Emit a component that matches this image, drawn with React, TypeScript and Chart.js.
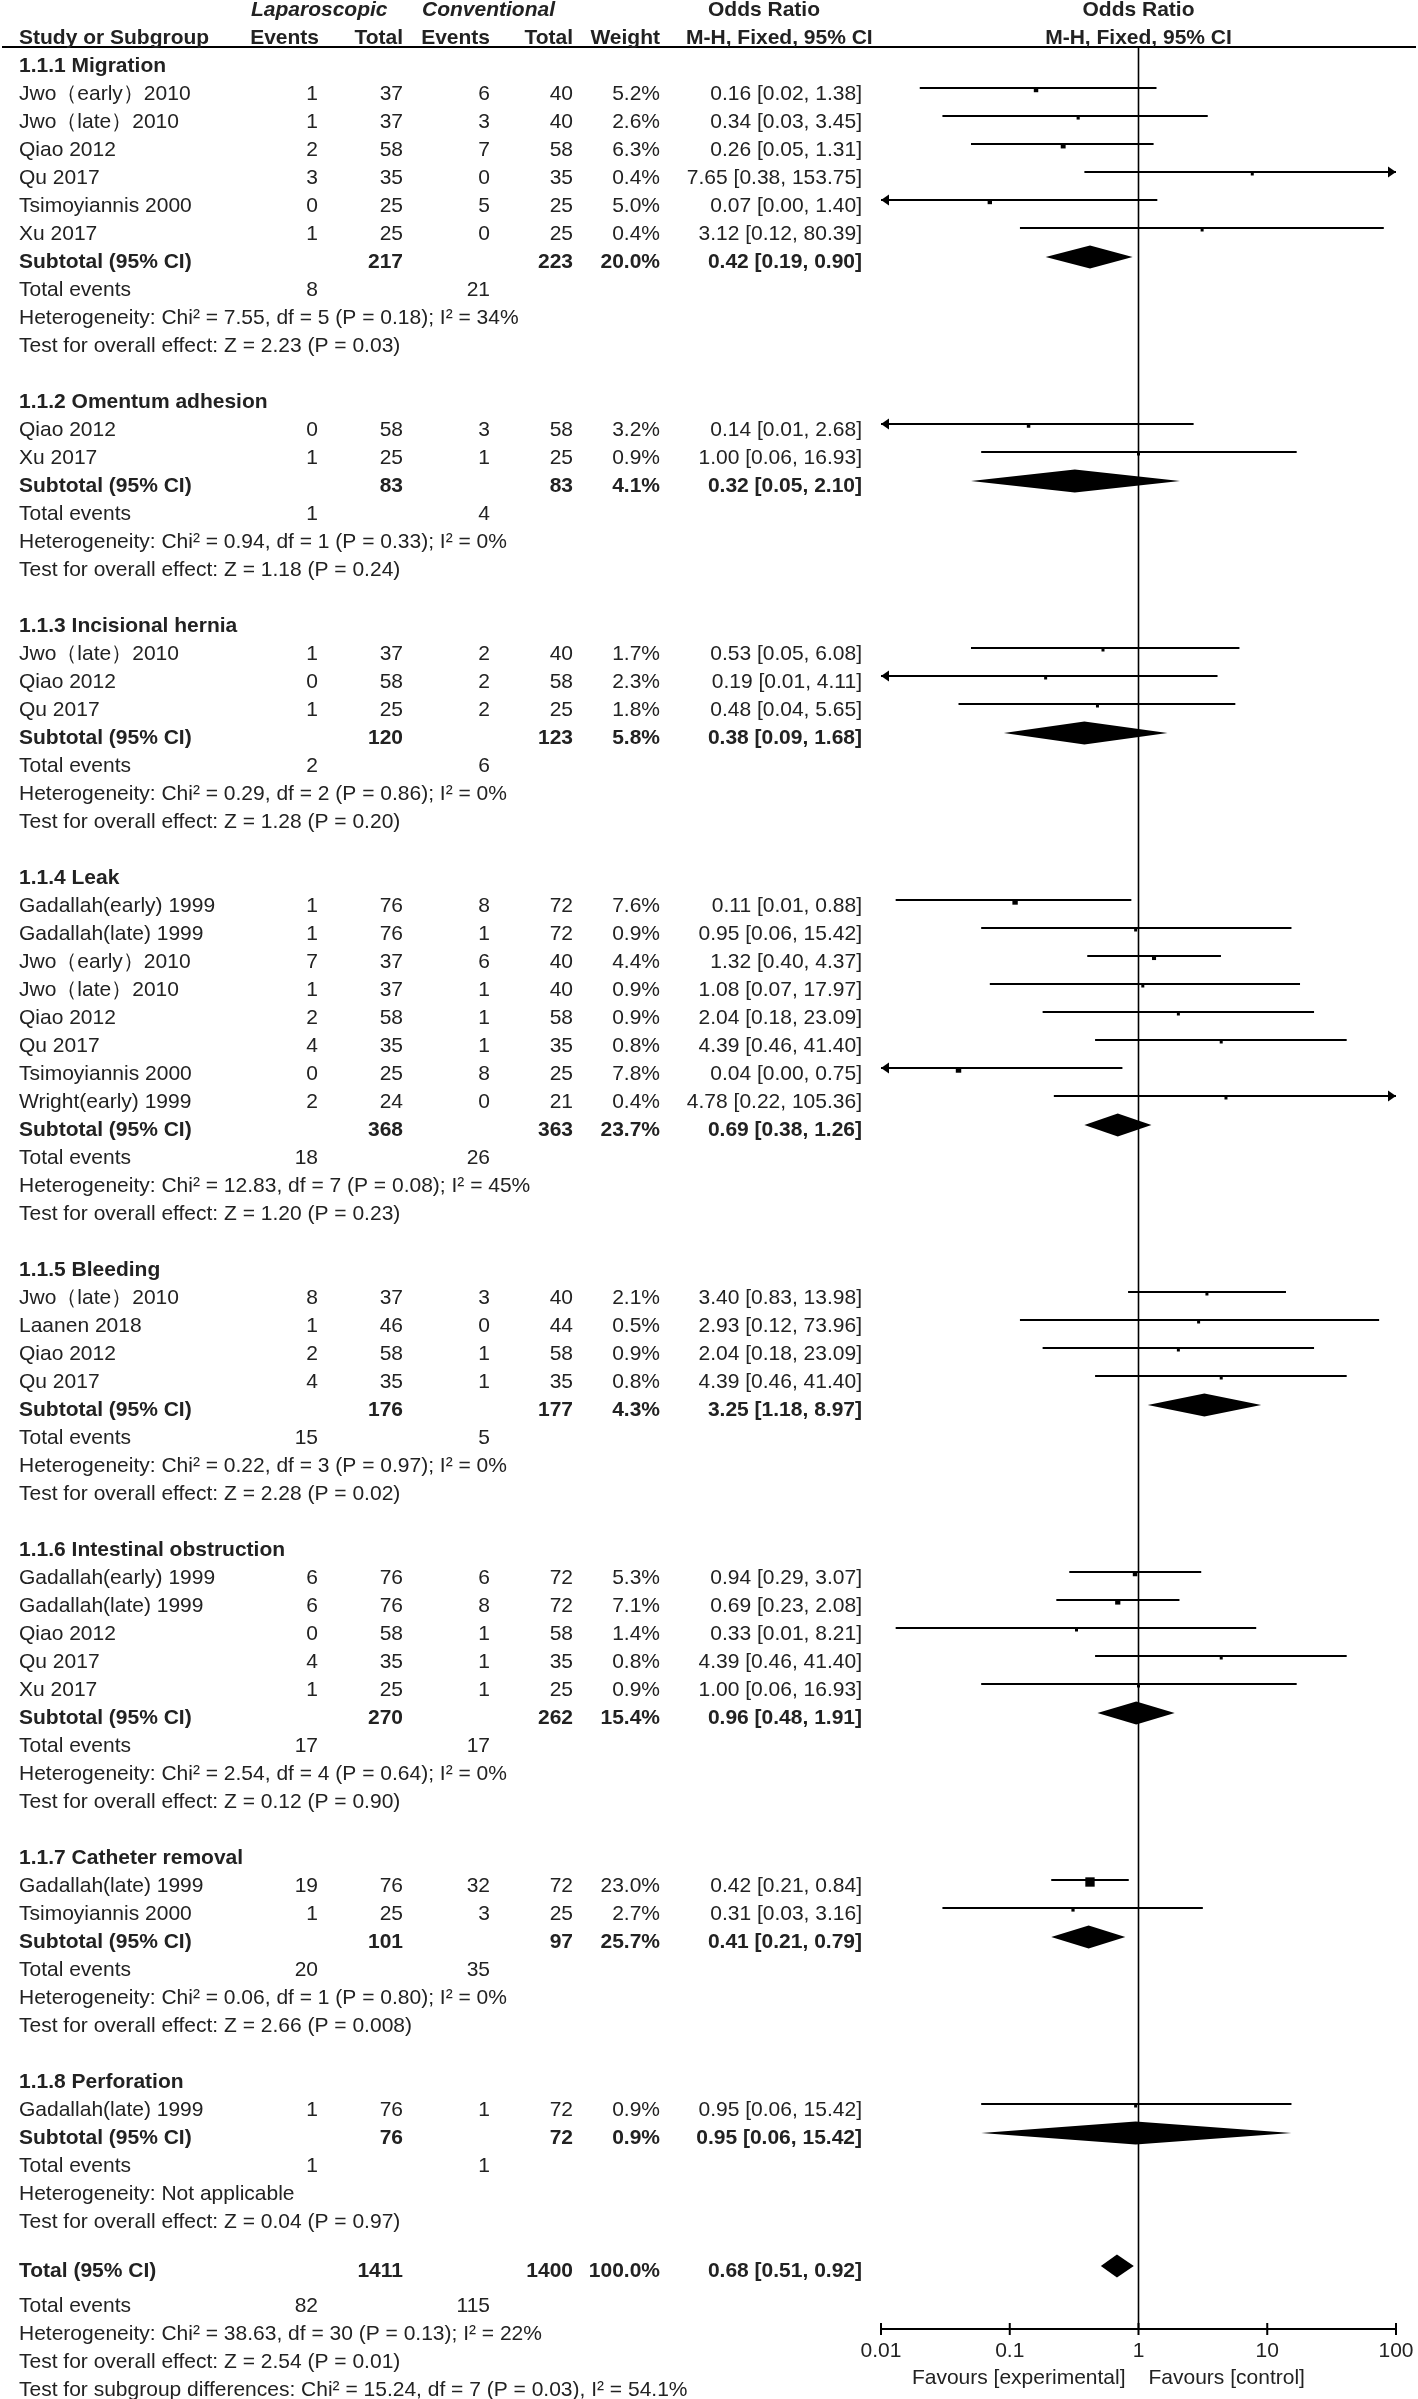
import React, { useEffect, useRef } from "react";
import { Chart, registerables } from "chart.js";

Chart.register(...registerables);

// ---------- DATA ----------
const groupTitles = [
  "1.1.1 Migration",
  "1.1.2 Omentum adhesion",
  "1.1.3 Incisional hernia",
  "1.1.4 Leak",
  "1.1.5 Bleeding",
  "1.1.6 Intestinal obstruction",
  "1.1.7 Catheter removal",
  "1.1.8 Perforation",
];

const studyGroups = [0, 0, 0, 0, 0, 0, 1, 1, 2, 2, 2, 3, 3, 3, 3, 3, 3, 3, 3, 4, 4, 4, 4, 5, 5, 5, 5, 5, 6, 6, 7];
const studyNames = [
  "Jwo（early）2010", "Jwo（late）2010", "Qiao 2012", "Qu 2017", "Tsimoyiannis 2000", "Xu 2017",
  "Qiao 2012", "Xu 2017",
  "Jwo（late）2010", "Qiao 2012", "Qu 2017",
  "Gadallah(early) 1999", "Gadallah(late) 1999", "Jwo（early）2010", "Jwo（late）2010", "Qiao 2012", "Qu 2017", "Tsimoyiannis 2000", "Wright(early) 1999",
  "Jwo（late）2010", "Laanen 2018", "Qiao 2012", "Qu 2017",
  "Gadallah(early) 1999", "Gadallah(late) 1999", "Qiao 2012", "Qu 2017", "Xu 2017",
  "Gadallah(late) 1999", "Tsimoyiannis 2000",
  "Gadallah(late) 1999",
];
const lapEvents = [1, 1, 2, 3, 0, 1, 0, 1, 1, 0, 1, 1, 1, 7, 1, 2, 4, 0, 2, 8, 1, 2, 4, 6, 6, 0, 4, 1, 19, 1, 1];
const lapTotals = [37, 37, 58, 35, 25, 25, 58, 25, 37, 58, 25, 76, 76, 37, 37, 58, 35, 25, 24, 37, 46, 58, 35, 76, 76, 58, 35, 25, 76, 25, 76];
const conEvents = [6, 3, 7, 0, 5, 0, 3, 1, 2, 2, 2, 8, 1, 6, 1, 1, 1, 8, 0, 3, 0, 1, 1, 6, 8, 1, 1, 1, 32, 3, 1];
const conTotals = [40, 40, 58, 35, 25, 25, 58, 25, 40, 58, 25, 72, 72, 40, 40, 58, 35, 25, 21, 40, 44, 58, 35, 72, 72, 58, 35, 25, 72, 25, 72];
const studyWeights = [5.2, 2.6, 6.3, 0.4, 5.0, 0.4, 3.2, 0.9, 1.7, 2.3, 1.8, 7.6, 0.9, 4.4, 0.9, 0.9, 0.8, 7.8, 0.4, 2.1, 0.5, 0.9, 0.8, 5.3, 7.1, 1.4, 0.8, 0.9, 23.0, 2.7, 0.9];
const studyOR = [0.16, 0.34, 0.26, 7.65, 0.07, 3.12, 0.14, 1.0, 0.53, 0.19, 0.48, 0.11, 0.95, 1.32, 1.08, 2.04, 4.39, 0.04, 4.78, 3.4, 2.93, 2.04, 4.39, 0.94, 0.69, 0.33, 4.39, 1.0, 0.42, 0.31, 0.95];
const studyLow = [0.02, 0.03, 0.05, 0.38, 0.004, 0.12, 0.007, 0.06, 0.05, 0.009, 0.04, 0.013, 0.06, 0.4, 0.07, 0.18, 0.46, 0.002, 0.22, 0.83, 0.12, 0.18, 0.46, 0.29, 0.23, 0.013, 0.46, 0.06, 0.21, 0.03, 0.06];
const studyHigh = [1.38, 3.45, 1.31, 153.75, 1.4, 80.39, 2.68, 16.93, 6.08, 4.11, 5.65, 0.88, 15.42, 4.37, 17.97, 23.09, 41.4, 0.75, 105.36, 13.98, 73.96, 23.09, 41.4, 3.07, 2.08, 8.21, 41.4, 16.93, 0.84, 3.16, 15.42];

const subLapTotals = [217, 83, 120, 368, 176, 270, 101, 76];
const subConTotals = [223, 83, 123, 363, 177, 262, 97, 72];
const subWeights = [20.0, 4.1, 5.8, 23.7, 4.3, 15.4, 25.7, 0.9];
const subOR = [0.42, 0.32, 0.38, 0.69, 3.25, 0.96, 0.41, 0.95];
const subLow = [0.19, 0.05, 0.09, 0.38, 1.18, 0.48, 0.21, 0.06];
const subHigh = [0.9, 2.1, 1.68, 1.26, 8.97, 1.91, 0.79, 15.42];
const subLapEvents = [8, 1, 2, 18, 15, 17, 20, 1];
const subConEvents = [21, 4, 6, 26, 5, 17, 35, 1];
const heterogeneityTexts = [
  "Heterogeneity: Chi² = 7.55, df = 5 (P = 0.18); I² = 34%",
  "Heterogeneity: Chi² = 0.94, df = 1 (P = 0.33); I² = 0%",
  "Heterogeneity: Chi² = 0.29, df = 2 (P = 0.86); I² = 0%",
  "Heterogeneity: Chi² = 12.83, df = 7 (P = 0.08); I² = 45%",
  "Heterogeneity: Chi² = 0.22, df = 3 (P = 0.97); I² = 0%",
  "Heterogeneity: Chi² = 2.54, df = 4 (P = 0.64); I² = 0%",
  "Heterogeneity: Chi² = 0.06, df = 1 (P = 0.80); I² = 0%",
  "Heterogeneity: Not applicable",
];
const overallEffectTexts = [
  "Test for overall effect: Z = 2.23 (P = 0.03)",
  "Test for overall effect: Z = 1.18 (P = 0.24)",
  "Test for overall effect: Z = 1.28 (P = 0.20)",
  "Test for overall effect: Z = 1.20 (P = 0.23)",
  "Test for overall effect: Z = 2.28 (P = 0.02)",
  "Test for overall effect: Z = 0.12 (P = 0.90)",
  "Test for overall effect: Z = 2.66 (P = 0.008)",
  "Test for overall effect: Z = 0.04 (P = 0.97)",
];

const overallTotals = [1411, 1400];
const overallEvents = [82, 115];
const overallWeight = 100.0;
const overallEstimate = [0.68, 0.51, 0.92]; // OR, low, high
const overallNotes = [
  "Heterogeneity: Chi² = 38.63, df = 30 (P = 0.13); I² = 22%",
  "Test for overall effect: Z = 2.54 (P = 0.01)",
  "Test for subgroup differences: Chi² = 15.24, df = 7 (P = 0.03), I² = 54.1%",
];

const tickValues = [0.01, 0.1, 1, 10, 100];
const tickLabels = ["0.01", "0.1", "1", "10", "100"];
const axisMin = 0.01;
const axisMax = 100;

// ---------- LAYOUT CONSTANTS ----------
const W = 1418;
const H = 2399;
const ROW_PX = 28;
const FIRST_ROW_Y = 66;
const PLOT_TOP = 47;
const AXIS_Y = 2329;
const PLOT_LEFT = 881;
const PLOT_RIGHT = 1396;
const FONT = '"Liberation Sans", Arial, sans-serif';
const TEXT_COLOR = "#222";

const X_NAME = 19;
const X_LAP_EV = 318;
const X_LAP_TOT = 403;
const X_CON_EV = 490;
const X_CON_TOT = 573;
const X_WEIGHT = 660;
const X_OR = 862;

const fmt2 = (v: number) => v.toFixed(2);
const ciText = (o: number, l: number, h: number) => `${fmt2(o)} [${fmt2(l)}, ${fmt2(h)}]`;

export default function App() {
  const ref = useRef<HTMLCanvasElement | null>(null);

  useEffect(() => {
    const canvas = ref.current;
    if (!canvas) return;

    // row indices
    const studyRows: number[] = [];
    const groupRows: { header: number; sub: number; te: number; het: number; test: number }[] = [];
    let r = 0;
    groupTitles.forEach((_, g) => {
      const header = r++;
      studyGroups.forEach((sg, i) => {
        if (sg === g) studyRows[i] = r++;
      });
      const sub = r++;
      const te = r++;
      const het = r++;
      const test = r++;
      r++;
      groupRows.push({ header, sub, te, het, test });
    });
    const totalRow = r - 0.25;
    const totalTeRow = r + 1;
    const noteRows = [r + 2, r + 3, r + 4];

    const yMin = (PLOT_TOP - FIRST_ROW_Y) / ROW_PX;
    const yMax = (AXIS_Y - FIRST_ROW_Y) / ROW_PX;
    const lineOff = -6 / ROW_PX;
    const sqOff = -4 / ROW_PX;

    const ciData = studyRows.map((row, i) => ({ x: [studyLow[i], studyHigh[i]], y: row + lineOff }));
    const ptData = studyRows.map((row, i) => ({ x: studyOR[i], y: row + sqOff }));
    const radii = studyWeights.map((w) => Math.max(3, 1.95 * Math.sqrt(w)) / Math.SQRT2);

    const forest = {
      id: "forest",
      beforeDraw(chart: any) {
        const ctx = chart.ctx;
        ctx.save();
        ctx.fillStyle = "#fff";
        ctx.fillRect(0, 0, chart.width, chart.height);
        ctx.restore();
      },
      beforeDatasetsDraw(chart: any) {
        const ctx = chart.ctx;
        const xs = chart.scales.x;
        const ca = chart.chartArea;
        ctx.save();
        ctx.strokeStyle = "#000";
        ctx.lineWidth = 2;
        ctx.beginPath();
        ctx.moveTo(2, ca.top);
        ctx.lineTo(1416, ca.top);
        ctx.stroke();
        const x1 = xs.getPixelForValue(1);
        ctx.lineWidth = 1.6;
        ctx.beginPath();
        ctx.moveTo(x1, ca.top);
        ctx.lineTo(x1, ca.bottom);
        ctx.stroke();
        ctx.restore();
      },
      afterDatasetsDraw(chart: any) {
        const ctx = chart.ctx;
        const xs = chart.scales.x;
        const ys = chart.scales.y;
        const ca = chart.chartArea;
        const yp = (row: number) => ys.getPixelForValue(row);

        ctx.save();
        ctx.fillStyle = "#000";
        // arrows for intervals beyond the axis
        studyRows.forEach((row, i) => {
          const y = ys.getPixelForValue(row + lineOff);
          if (studyLow[i] < axisMin) {
            const xl = xs.getPixelForValue(axisMin);
            ctx.beginPath();
            ctx.moveTo(xl, y);
            ctx.lineTo(xl + 8, y - 5.5);
            ctx.lineTo(xl + 8, y + 5.5);
            ctx.closePath();
            ctx.fill();
          }
          if (studyHigh[i] > axisMax) {
            const xr = xs.getPixelForValue(axisMax);
            ctx.beginPath();
            ctx.moveTo(xr, y);
            ctx.lineTo(xr - 8, y - 5.5);
            ctx.lineTo(xr - 8, y + 5.5);
            ctx.closePath();
            ctx.fill();
          }
        });
        // diamonds
        const diamond = (o: number, l: number, h: number, row: number) => {
          const cy = yp(row) - 5;
          const xl = xs.getPixelForValue(l);
          const xc = xs.getPixelForValue(o);
          const xr = xs.getPixelForValue(h);
          ctx.beginPath();
          ctx.moveTo(xl, cy);
          ctx.lineTo(xc, cy - 11.5);
          ctx.lineTo(xr, cy);
          ctx.lineTo(xc, cy + 11.5);
          ctx.closePath();
          ctx.fill();
        };
        groupRows.forEach((gr, g) => diamond(subOR[g], subLow[g], subHigh[g], gr.sub));
        diamond(overallEstimate[0], overallEstimate[1], overallEstimate[2], totalRow);

        // x axis
        const ay = ca.bottom;
        ctx.strokeStyle = "#000";
        ctx.lineWidth = 2;
        ctx.beginPath();
        ctx.moveTo(xs.getPixelForValue(axisMin), ay);
        ctx.lineTo(xs.getPixelForValue(axisMax), ay);
        ctx.stroke();
        tickValues.forEach((v) => {
          const x = xs.getPixelForValue(v);
          ctx.beginPath();
          ctx.moveTo(x, ay - 6);
          ctx.lineTo(x, ay + 6);
          ctx.stroke();
        });

        // text
        const txt = (s: string, x: number, y: number, align: CanvasTextAlign, bold = false, italic = false) => {
          ctx.font = `${italic ? "italic " : ""}${bold ? "bold " : ""}21px ${FONT}`;
          ctx.textAlign = align;
          ctx.textBaseline = "middle";
          ctx.fillStyle = TEXT_COLOR;
          ctx.fillText(s, x, y);
        };
        tickValues.forEach((v, k) => txt(tickLabels[k], xs.getPixelForValue(v), ay + 22, "center"));
        const x1 = xs.getPixelForValue(1);
        txt("Favours [experimental]", x1 - 13, ay + 49, "right");
        txt("Favours [control]", x1 + 10, ay + 49, "left");

        // header
        txt("Laparoscopic", 251, 10, "left", true, true);
        txt("Conventional", 422, 10, "left", true, true);
        txt("Odds Ratio", 708, 10, "left", true);
        txt("Odds Ratio", x1, 10, "center", true);
        txt("Study or Subgroup", X_NAME, 38, "left", true);
        txt("Events", X_LAP_EV + 1, 38, "right", true);
        txt("Total", X_LAP_TOT, 38, "right", true);
        txt("Events", X_CON_EV, 38, "right", true);
        txt("Total", X_CON_TOT, 38, "right", true);
        txt("Weight", X_WEIGHT, 38, "right", true);
        txt("M-H, Fixed, 95% CI", 686, 38, "left", true);
        txt("M-H, Fixed, 95% CI", x1, 38, "center", true);

        groupRows.forEach((gr, g) => {
          txt(groupTitles[g], X_NAME, yp(gr.header), "left", true);
          studyRows.forEach((row, i) => {
            if (studyGroups[i] !== g) return;
            const y = yp(row);
            txt(studyNames[i], X_NAME, y, "left");
            txt(String(lapEvents[i]), X_LAP_EV, y, "right");
            txt(String(lapTotals[i]), X_LAP_TOT, y, "right");
            txt(String(conEvents[i]), X_CON_EV, y, "right");
            txt(String(conTotals[i]), X_CON_TOT, y, "right");
            txt(studyWeights[i].toFixed(1) + "%", X_WEIGHT, y, "right");
            txt(ciText(studyOR[i], studyLow[i], studyHigh[i]), X_OR, y, "right");
          });
          const ys2 = yp(gr.sub);
          txt("Subtotal (95% CI)", X_NAME, ys2, "left", true);
          txt(String(subLapTotals[g]), X_LAP_TOT, ys2, "right", true);
          txt(String(subConTotals[g]), X_CON_TOT, ys2, "right", true);
          txt(subWeights[g].toFixed(1) + "%", X_WEIGHT, ys2, "right", true);
          txt(ciText(subOR[g], subLow[g], subHigh[g]), X_OR, ys2, "right", true);
          txt("Total events", X_NAME, yp(gr.te), "left");
          txt(String(subLapEvents[g]), X_LAP_EV, yp(gr.te), "right");
          txt(String(subConEvents[g]), X_CON_EV, yp(gr.te), "right");
          txt(heterogeneityTexts[g], X_NAME, yp(gr.het), "left");
          txt(overallEffectTexts[g], X_NAME, yp(gr.test), "left");
        });

        const yt = yp(totalRow);
        txt("Total (95% CI)", X_NAME, yt, "left", true);
        txt(String(overallTotals[0]), X_LAP_TOT, yt, "right", true);
        txt(String(overallTotals[1]), X_CON_TOT, yt, "right", true);
        txt(overallWeight.toFixed(1) + "%", X_WEIGHT, yt, "right", true);
        txt(ciText(overallEstimate[0], overallEstimate[1], overallEstimate[2]), X_OR, yt, "right", true);
        txt("Total events", X_NAME, yp(totalTeRow), "left");
        txt(String(overallEvents[0]), X_LAP_EV, yp(totalTeRow), "right");
        txt(String(overallEvents[1]), X_CON_EV, yp(totalTeRow), "right");
        overallNotes.forEach((s, k) => txt(s, X_NAME, yp(noteRows[k]), "left"));

        ctx.restore();
      },
    };

    const chart = new Chart(canvas, {
      type: "scatter",
      data: {
        datasets: [
          {
            type: "bar",
            indexAxis: "y",
            data: ciData as any,
            backgroundColor: "#000",
            borderWidth: 0,
            barThickness: 2,
            inflateAmount: 0,
            grouped: false,
          } as any,
          {
            type: "scatter",
            data: ptData,
            pointStyle: "rect",
            pointRadius: radii,
            pointHoverRadius: radii,
            backgroundColor: "#000",
            borderWidth: 0,
          } as any,
        ],
      },
      options: {
        responsive: false,
        maintainAspectRatio: false,
        devicePixelRatio: 1,
        animation: false,
        events: [],
        layout: { padding: { left: PLOT_LEFT, right: W - PLOT_RIGHT, top: PLOT_TOP, bottom: H - AXIS_Y } },
        scales: {
          x: {
            type: "logarithmic",
            min: axisMin,
            max: axisMax,
            display: false,
            offset: false,
            bounds: "data",
            afterBuildTicks: (s: any) => {
              s.min = axisMin;
              s.max = axisMax;
            },
          },
          y: {
            type: "linear",
            min: yMin,
            max: yMax,
            reverse: true,
            display: false,
            offset: false,
            bounds: "data",
            grace: 0,
            afterBuildTicks: (s: any) => {
              s.min = yMin;
              s.max = yMax;
            },
          },
        } as any,
        plugins: { legend: { display: false }, tooltip: { enabled: false } },
      },
      plugins: [forest],
    });

    return () => chart.destroy();
  }, []);

  return (
    <div style={{ position: "absolute", left: 0, top: 0, width: W, height: H }}>
      <canvas ref={ref} width={W} height={H} style={{ display: "block" }} />
    </div>
  );
}
